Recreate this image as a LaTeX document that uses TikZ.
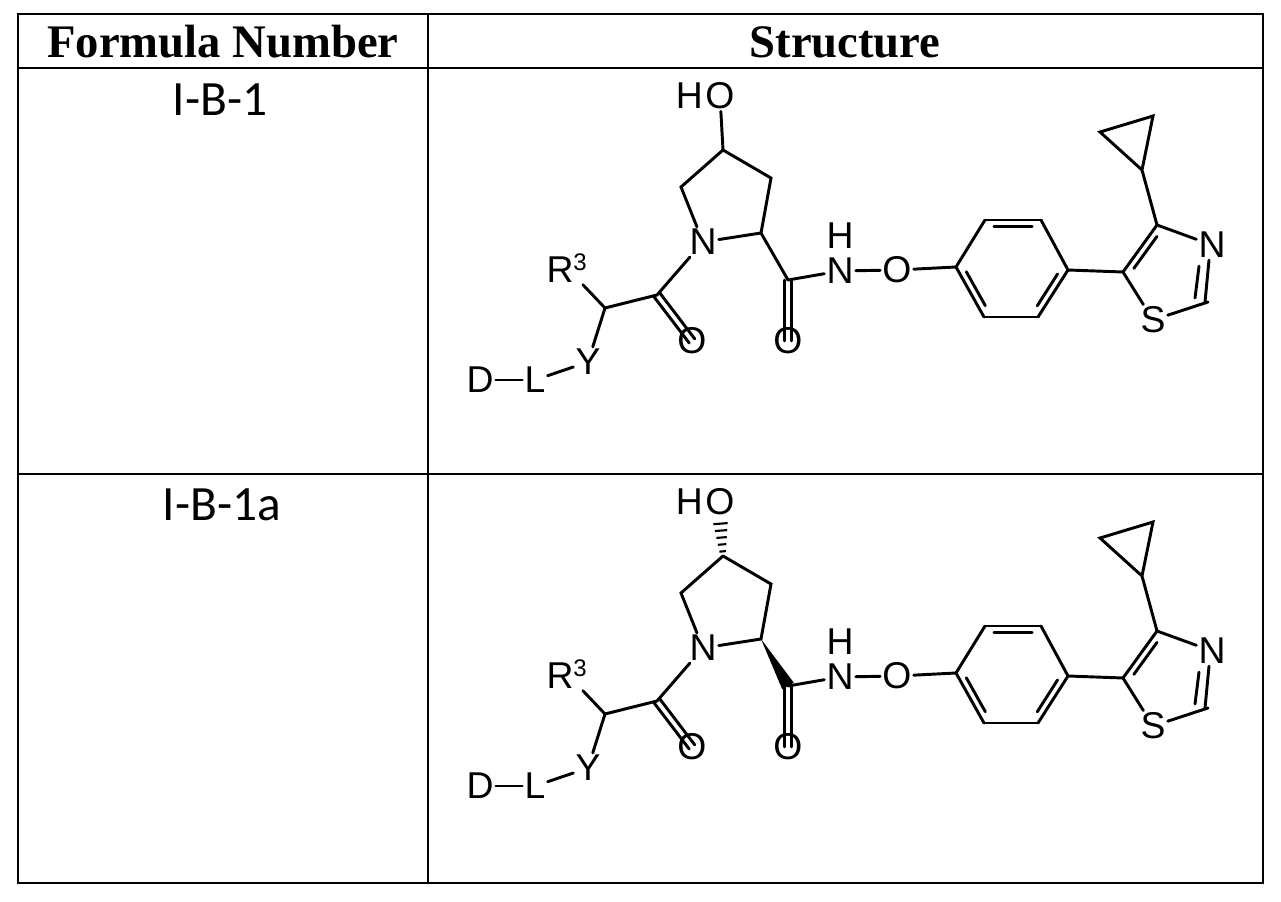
\documentclass[tikz,border=0pt]{standalone}
\usepackage{fontspec}
\setmainfont{Liberation Serif}
\newfontfamily\chemfont{Liberation Sans}
\newfontfamily\calfont{Carlito}
\usetikzlibrary{calc}
\tikzset{
  grid/.style={line width=1.6pt},
  bond/.style={line width=2.2pt, line cap=round},
  atom/.style={inner sep=1.5pt, font=\chemfont\fontsize{28}{30}\selectfont},
  hdr/.style={font=\bfseries\fontsize{35}{38}\selectfont},
  lbl/.style={font=\calfont\fontsize{37}{40}\selectfont}
}
\newcommand\dbin[2]{\draw[bond] (#1) -- (#2); \draw[bond] ($(#1)!0.16!(#2)!5pt!-90:(#2)$) -- ($(#2)!0.16!(#1)!5pt!90:(#1)$);}
\newcommand\dbsym[2]{\draw[bond] ($(#1)!2.6pt!90:(#2)$) -- ($(#2)!2.6pt!-90:(#1)$); \draw[bond] ($(#1)!2.6pt!-90:(#2)$) -- ($(#2)!2.6pt!90:(#1)$);}
\newcommand\molecule[2]{%
\begin{scope}[shift={(0,#1)}, name prefix=#2-]
  \coordinate (c4) at (723,150);
  \coordinate (c3) at (771,178);
  \coordinate (c2) at (761,233);
  \coordinate (c5) at (681,187);
  \coordinate (cc) at (788,280);
  \coordinate (ca) at (657,295);
  \coordinate (ch) at (605,308);
  \node[atom] (oh) at (720,96) {O};
  \node[atom, anchor=east, inner sep=0pt] (hh) at (oh.west) {H};
  \node[atom] (n1) at (703,242) {N};
  \node[atom] (o2) at (788,341) {O};
  \node[atom] (o3) at (692,341) {O};
  \node[atom] (nh) at (840,271) {N};
  \node[atom] (hn) at (840,236) {H};
  \node[atom] (r3) at (567,268) {R\textsuperscript{\fontsize{18}{20}\selectfont 3}};
  \node[atom] (y) at (588,362) {Y};
  \node[atom] (l) at (535,380) {L};
  \node[atom] (d) at (480,380) {D};
  \node[atom] (o4) at (897,270) {O};
  \coordinate (b1) at (956,267);
  \coordinate (b2) at (985,220);
  \coordinate (b3) at (1041,220);
  \coordinate (b4) at (1068,270);
  \coordinate (b5) at (1038,317);
  \coordinate (b6) at (984,317);
  \coordinate (t5) at (1123,272);
  \coordinate (t4) at (1157,225);
  \node[atom] (tn) at (1212,245) {N};
  \coordinate (t2) at (1208,302);
  \node[atom] (ts) at (1153,320) {S};
  \coordinate (p1) at (1142,170);
  \coordinate (p2) at (1100,132);
  \coordinate (p3) at (1153,116);
  \draw[bond] (c4) -- (c3) -- (c2) -- (n1) -- (c5) -- (c4);
  \draw[bond] (n1) -- (ca) -- (ch) -- (r3);
  \draw[bond] (ch) -- (y); \draw[bond] (y) -- (l); \draw[bond] (l) -- (d);
  \dbsym{ca}{o3}
  \dbsym{cc}{o2}
  \draw[bond] (cc) -- (nh); \draw[bond] (nh) -- (o4); \draw[bond] (o4) -- (b1);
  \dbin{b2}{b3} \dbin{b4}{b5} \dbin{b6}{b1}
  \draw[bond] (b1) -- (b2); \draw[bond] (b3) -- (b4); \draw[bond] (b5) -- (b6);
  \draw[bond] (b4) -- (t5);
  \dbin{t5}{t4}
  \draw[bond] (t4) -- (tn); \draw[bond] (t2) -- (ts) -- (t5);
  \draw[bond] ($(tn.south)+(-3,0)$) -- ($(t2)+(-3,0)$);
  \draw[bond] ($(tn.south)+(-13,6)$) -- ($(t2)+(-13,-4)$);
  \draw[bond] (t4) -- (p1) -- (p2) -- (p3) -- (p1);
\end{scope}}
\begin{document}
\begin{tikzpicture}[x=0.75pt,y=-0.75pt]
\useasboundingbox (0,0) rectangle (1281,902);
\draw[grid] (18,14) rectangle (1263,883);
\draw[grid] (18,68) -- (1263,68);
\draw[grid] (18,474) -- (1263,474);
\draw[grid] (428,14) -- (428,883);
\node[hdr] (h1) at (223,42) {Formula Number};
\node[hdr] (h2) at (845,42) {Structure};
\node[lbl] (f1) at (220,100) {I-B-1};
\node[lbl] (f2) at (222,505) {I-B-1a};
\molecule{0}{m1}
\draw[bond] (m1-c4) -- (m1-oh);
\draw[bond] (m1-c2) -- (m1-cc);
\molecule{406}{m2}
\foreach \t in {0.12,0.3,0.48,0.66,0.84}
  \draw[line width=1.6pt] ($(m2-c4)!\t!(m2-oh.south)!{(2+4*\t)*1pt}!90:(m2-oh.south)$) -- ($(m2-c4)!\t!(m2-oh.south)!{(2+4*\t)*1pt}!-90:(m2-oh.south)$);
\fill ($(m2-c2)$) -- ($(m2-cc)!5pt!90:(m2-c2)$) -- ($(m2-cc)!5pt!-90:(m2-c2)$) -- cycle;
\end{tikzpicture}
\end{document}
